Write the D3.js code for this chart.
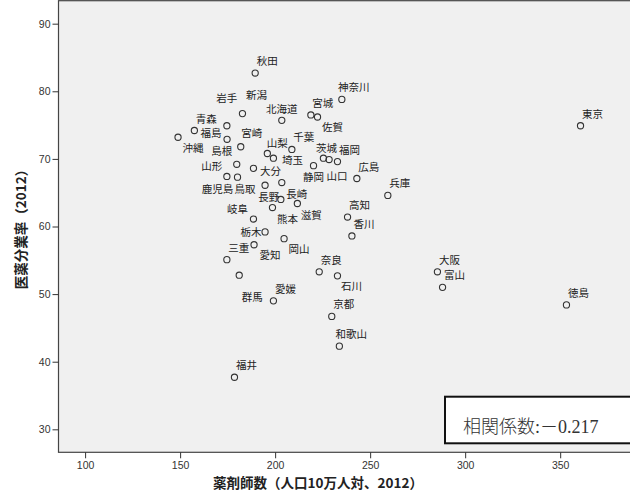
<!DOCTYPE html>
<html>
<head>
<meta charset="utf-8">
<script src="https://cdn.jsdelivr.net/npm/d3@7"></script>
<style>
  body { margin: 0; background: #fff; }
  svg { display: block; }
  .tick text { font-family: "Liberation Sans", Arial, sans-serif; font-size: 10.5px; fill: #333; }
  .tick line { stroke: #333; }
</style>
</head>
<body>
<svg width="630" height="499"></svg>
<script>
// prefectures, pharmacists per 100k (2012), separation rate (2012)
const prefs = ['秋田','新潟','岩手','青森','沖縄','福島','宮崎','島根','大分','山形',
  '鹿児島','山梨','埼玉','鳥取','長崎','長野','熊本','滋賀','岐阜','栃木',
  '愛知','三重','岡山','群馬','愛媛','福井','奈良','石川','京都','和歌山',
  '高知','香川','兵庫','広島','福岡','山口','茨城','静岡','千葉','北海道',
  '宮城','佐賀','神奈川','東京','大阪','富山','徳島'];
const pharmacists = [189.5,182.8,174.6,157.5,148.9,174.7,181.9,179.8,188.6,174.6,
  180.2,195.9,199.1,194.7,203.5,203.0,198.6,211.7,188.6,194.7,
  188.9,174.6,204.7,181.1,199.1,178.6,223.2,232.8,229.8,233.8,
  238.1,240.4,259.3,243.0,232.8,228.4,225.4,220.2,208.8,203.5,
  218.8,222.3,235.1,360.7,285.4,288.1,353.3];
const sepRate = [82.7,76.7,74.9,74.2,73.2,72.9,71.8,69.2,68.6,67.4,
  67.3,70.8,70.1,66.1,66.5,64.0,62.8,63.4,61.1,59.2,
  57.3,55.1,58.2,52.8,49.0,37.7,53.3,52.7,46.7,42.3,
  61.4,58.6,64.6,67.1,69.6,69.9,70.1,69.0,71.4,75.7,
  76.5,76.2,78.8,74.9,53.3,51.0,48.4];
const xTicks = [100,150,200,250,300,350];
const yTicks = [30,40,50,60,70,80,90];
const corrText = '相関係数:－0.217';

// label placement (label centre relative to point), default upper right
const labelOffset = {
  '新潟':[14,-19], '岩手':[0,-28], '沖縄':[15,11], '福島':[-16,-6], '宮崎':[11,-14],
  '島根':[-15,-13], '大分':[17,3], '山形':[-15,-10], '鹿児島':[-20,12], '山梨':[10,-10],
  '埼玉':[19,2], '鳥取':[-20,4], '長崎':[15,11], '長野':[-12,-2], '熊本':[15,11],
  '滋賀':[14,11], '岐阜':[-16,-10], '栃木':[-14,0], '愛知':[16,10], '岡山':[15,10],
  '群馬':[13,22], '石川':[14,10], '山口':[8,16], '茨城':[3,-10], '静岡':[0,11],
  '北海道':[0,-11], '佐賀':[15,10]
};

const data = prefs.map((p, i) => ({ name: p, x: pharmacists[i], y: sepRate[i] }));

const svg = d3.select('svg');
const plotL = 58.5, plotT = 0.7, plotR = 640, plotB = 452.3;

const x = d3.scaleLinear().domain([86, 392]).range([plotL, plotR]);
const y = d3.scaleLinear().domain([26.6, 93.4]).range([plotB, plotT]);

svg.append('rect')
  .attr('x', plotL).attr('y', plotT)
  .attr('width', plotR - plotL).attr('height', plotB - plotT)
  .attr('fill', '#f0f0f0')
  .attr('stroke', '#444')
  .attr('stroke-width', 1.2);

svg.append('g')
  .attr('transform', `translate(0,${plotB})`)
  .call(d3.axisBottom(x).tickValues(xTicks).tickSize(6).tickPadding(3))
  .call(g => g.select('.domain').remove());

svg.append('g')
  .attr('transform', `translate(${plotL},0)`)
  .call(d3.axisLeft(y).tickValues(yTicks).tickSize(6).tickPadding(2))
  .call(g => g.select('.domain').remove());

svg.selectAll('circle.pt')
  .data(data)
  .enter()
  .append('circle')
  .attr('class', 'pt')
  .attr('cx', d => x(d.x))
  .attr('cy', d => y(d.y))
  .attr('r', 3.1)
  .attr('fill', 'none')
  .attr('stroke', '#333')
  .attr('stroke-width', 1.1);

svg.selectAll('text.lbl')
  .data(data)
  .enter()
  .append('text')
  .attr('class', 'lbl')
  .attr('x', d => x(d.x) + (labelOffset[d.name] || [12, -12])[0])
  .attr('y', d => y(d.y) + (labelOffset[d.name] || [12, -12])[1] + 4)
  .attr('text-anchor', 'middle')
  .attr('font-family', '"Noto Sans CJK JP", sans-serif')
  .attr('font-size', 10.5)
  .attr('fill', '#222')
  .text(d => d.name);

// correlation box
svg.append('rect')
  .attr('x', 445).attr('y', 396.7)
  .attr('width', 200).attr('height', 46.6)
  .attr('fill', '#fff')
  .attr('stroke', '#111')
  .attr('stroke-width', 2);

svg.append('text')
  .attr('x', 463).attr('y', 432.5)
  .attr('font-family', '"Liberation Serif", "Noto Sans CJK JP", serif')
  .attr('font-size', 18)
  .attr('font-weight', 300)
  .attr('fill', '#333')
  .text(corrText);

svg.append('text')
  .attr('x', 318).attr('y', 488)
  .attr('text-anchor', 'middle')
  .attr('font-family', '"Noto Sans CJK JP", sans-serif')
  .attr('font-weight', 'bold')
  .attr('font-size', 13.5)
  .attr('fill', '#222')
  .text('薬剤師数（人口10万人対、2012）');

svg.append('text')
  .attr('transform', 'translate(21,226) rotate(-90)')
  .attr('dy', '0.35em')
  .attr('text-anchor', 'middle')
  .attr('font-family', '"Noto Sans CJK JP", sans-serif')
  .attr('font-weight', 'bold')
  .attr('font-size', 13.5)
  .attr('fill', '#222')
  .text('医薬分業率（2012）');
</script>
</body>
</html>
